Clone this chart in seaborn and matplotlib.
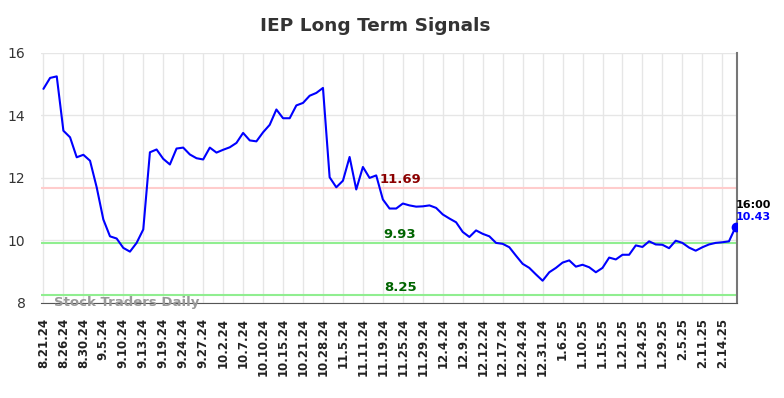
"""
IEP long term signals chart.
"""

import matplotlib
matplotlib.use('Agg')
import matplotlib.pyplot as plt
import seaborn as sns
import pandas as pd

# closing prices (one value per point)
prices = [14.85, 15.20, 15.25, 13.51, 13.30, 12.66, 12.74, 12.55, 11.70, 10.67,
          10.13, 10.06, 9.76, 9.64, 9.92, 10.35, 12.82, 12.91, 12.61, 12.43,
          12.94, 12.97, 12.75, 12.63, 12.59, 12.97, 12.81, 12.90, 12.98, 13.12,
          13.44, 13.20, 13.17, 13.46, 13.70, 14.19, 13.91, 13.91, 14.32, 14.40,
          14.63, 14.72, 14.88, 12.02, 11.70, 11.91, 12.67, 11.63, 12.35, 12.00,
          12.08, 11.31, 11.02, 11.02, 11.18, 11.12, 11.08, 11.09, 11.12, 11.04,
          10.83, 10.70, 10.58, 10.27, 10.11, 10.32, 10.21, 10.13, 9.92, 9.89,
          9.78, 9.51, 9.25, 9.12, 8.91, 8.71, 8.98, 9.12, 9.29, 9.36,
          9.16, 9.22, 9.14, 8.98, 9.12, 9.45, 9.39, 9.54, 9.54, 9.84,
          9.79, 9.97, 9.87, 9.86, 9.75, 9.99, 9.92, 9.77, 9.67, 9.78,
          9.87, 9.92, 9.94, 9.97, 10.43]

# tick labels, one every third point
tick_labels = ['8.21.24', '8.26.24', '8.30.24', '9.5.24', '9.10.24', '9.13.24', '9.19.24',
               '9.24.24', '9.27.24', '10.2.24', '10.7.24', '10.10.24', '10.15.24', '10.21.24',
               '10.28.24', '11.5.24', '11.11.24', '11.19.24', '11.25.24', '11.29.24', '12.4.24',
               '12.9.24', '12.12.24', '12.17.24', '12.24.24', '12.31.24', '1.6.25', '1.10.25',
               '1.15.25', '1.21.25', '1.24.25', '1.29.25', '2.5.25', '2.11.25', '2.14.25']

# signal levels
resistance = 11.69
supports = [9.93, 8.25]
last_time = '16:00'

df = pd.DataFrame({'idx': range(len(prices)), 'price': prices})

sns.set_style('white')
fig = plt.figure(figsize=(7.84, 3.98), dpi=100)
ax = fig.add_axes([0.052, 0.239, 0.888, 0.628])

# horizontal signal lines
ax.axhline(resistance, color='#ffcccc', lw=1.5, zorder=1)
for s in supports:
    ax.axhline(s, color='#90ee90', lw=1.5, zorder=1)

sns.lineplot(data=df, x='idx', y='price', color='blue', lw=1.5, ax=ax, zorder=3)
ax.plot(df['idx'].iloc[-1], df['price'].iloc[-1], 'o', color='blue', ms=6, zorder=4)

ax.set_xlim(-0.4, 104.2)
ax.set_ylim(8, 16)
ax.set_yticks([8, 10, 12, 14, 16])
ax.set_xticks(range(0, 3 * len(tick_labels), 3))
ax.set_xticklabels(tick_labels, rotation=90, fontsize=8.5, fontweight='bold', color='#222222')
ax.tick_params(axis='y', labelsize=10, colors='#333333', length=0, pad=11)
ax.tick_params(axis='x', length=0, pad=11)
ax.set_xlabel('')
ax.set_ylabel('')
ax.grid(True, color='#e6e6e6', lw=1)
ax.set_axisbelow(True)

for side in ['top', 'left']:
    ax.spines[side].set_visible(False)
ax.spines['bottom'].set_color('#555555')
ax.spines['right'].set_color('#777777')
ax.spines['right'].set_linewidth(1.5)

fig.text(0.478, 0.935, 'IEP Long Term Signals', fontsize=13.3, fontweight='bold',
         color='#333333', ha='center', va='center')

# level labels
mid = 53.6
ax.text(mid, resistance + 0.05, f'{resistance:.2f}', color='#8b0000', fontsize=9.5,
        fontweight='bold', ha='center', va='bottom')
for s in supports:
    ax.text(mid, s + 0.05, f'{s:.2f}', color='#006400', fontsize=9.5,
            fontweight='bold', ha='center', va='bottom')

# last price annotation
ax.text(104, prices[-1] + 0.55, last_time, color='black', fontsize=8, fontweight='bold',
        ha='left', va='bottom')
ax.text(104, prices[-1] + 0.15, f'{prices[-1]:.2f}', color='blue', fontsize=8, fontweight='bold',
        ha='left', va='bottom')

ax.text(1.6, 8.0, 'Stock Traders Daily', color='#999999', fontsize=9.5, fontweight='bold',
        ha='left', va='center')

fig.savefig('out.png', dpi=100)
